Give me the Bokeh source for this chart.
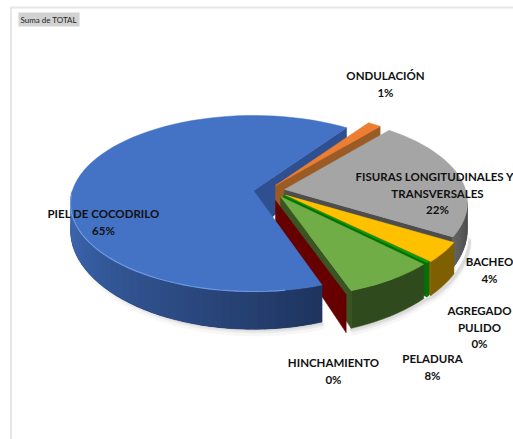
import math
from bokeh.plotting import figure
from bokeh.models import Range1d
from bokeh.core.properties import value
from bokeh.embed import file_html
from bokeh.resources import INLINE

# data (shares in percent)
categories = ["PIEL DE COCODRILO", "ONDULACIÓN", "FISURAS LONGITUDINALES Y TRANSVERSALES",
              "BACHEO", "AGREGADO PULIDO", "PELADURA", "HINCHAMIENTO"]
shares = [64.6, 1.2, 21.7, 4.0, 0.3, 8.0, 0.2]
share_labels = ["65%", "1%", "22%", "4%", "0%", "8%", "0%"]
label_lines = [["PIEL DE COCODRILO"], ["ONDULACIÓN"], ["FISURAS LONGITUDINALES Y", "TRANSVERSALES"],
               ["BACHEO"], ["AGREGADO", "PULIDO"], ["PELADURA"], ["HINCHAMIENTO"]]

# styling / layout
top_colors = ["#4472c4", "#ed7d31", "#a5a5a5", "#ffc000", "#08a008", "#70ad47", "#7a0000"]
wall_from = ["#3f6cb8", "#9c5a24", "#626262", "#7f6000", "#007000", "#2f4a1c", "#660000"]
wall_to = ["#1f3560", "#9c5a24", "#474747", "#7f6000", "#007000", "#2f4a1c", "#660000"]
explode = [(0, 0), (22, -5), (31, -1), (32, 4.6), (30, 4.5), (27, 6), (22, 10)]
label_x = [103, 385, 437, 489, 479, 432, 333]
label_y = [213, 75, 176, 261, 310, 358, 362]
CX, CY, A, B = 253, 203, 183, 88
APEX_UP = 13
START = 68.0


def depth(y):
    return 17 + (y - 126) * 20 / 159


def rim(t, off):
    r = math.radians(t)
    return CX + off[0] + A * math.cos(r), CY + off[1] + B * math.sin(r)


def mix(c1, c2, f):
    a = [int(c1[i:i + 2], 16) for i in (1, 3, 5)]
    b = [int(c2[i:i + 2], 16) for i in (1, 3, 5)]
    return "#%02x%02x%02x" % tuple(round(u + (v - u) * f) for u, v in zip(a, b))


p = figure(width=513, height=439, x_range=Range1d(0, 513), y_range=Range1d(439, 0),
           output_backend="svg", toolbar_location=None, min_border=0)
p.axis.visible = False
p.grid.visible = False
p.outline_line_color = None

# chart frame
p.line([10.5, 10.5, 513], [439, 7, 7], line_color="#e6e6e6", line_width=2)

# slice angles from the data
spans = []
t = START
for s in shares:
    spans.append((t, t + s * 3.6))
    t += s * 3.6


def arc(t0, t1, off, n=None):
    n = n or max(2, int(abs(t1 - t0) / 3) + 2)
    return [rim(t0 + (t1 - t0) * k / (n - 1), off) for k in range(n)]


def wall_range(t0, t1):
    # only the part of the rim facing the viewer (0..185 degrees, modulo 360)
    if t1 > 360:
        t0, t1 = t0 - 360, t1 - 360
    return max(t0, 0), min(t1, 185)


def draw_wall(i):
    a0, a1 = wall_range(*spans[i])
    if i == 0:
        a0, a1 = spans[0][0], 188
    if a1 <= a0:
        return
    pts = arc(a0, a1, explode[i])
    m = len(pts)
    # one full wall under the shaded strips, so no seams show through
    p.patch([q[0] for q in pts] + [q[0] for q in reversed(pts)],
            [q[1] for q in pts] + [q[1] + depth(q[1]) for q in reversed(pts)],
            fill_color=wall_to[i], line_color=wall_to[i], line_width=0.5)
    if wall_to[i] == wall_from[i]:
        return
    for k in range(m - 1):
        (x0, y0), (x1, y1) = pts[k], pts[k + 1]
        c = mix(wall_to[i], wall_from[i], k / max(1, m - 2))
        x2 = x1 + (x1 - x0) * 0.4
        y2 = y1 + (y1 - y0) * 0.4
        p.patch([x0, x2, x2, x0], [y0, y2, y2 + depth(y2), y0 + depth(y0)],
                fill_color=c, line_color=None)


def apex(i):
    return CX + explode[i][0], CY + explode[i][1] - APEX_UP


def draw_cut(i, t, color, apex_depth=None):
    ax, ay = apex(i)
    rx, ry = rim(t, explode[i])
    p.patch([ax, rx, rx, ax], [ay, ry, ry + depth(ry), ay + (apex_depth or depth(ay))],
            fill_color=color, line_color=color, line_width=0.5)


def draw_top(i):
    ax, ay = apex(i)
    pts = arc(*spans[i], explode[i])
    p.patch([ax] + [q[0] for q in pts], [ay] + [q[1] for q in pts],
            fill_color=top_colors[i], line_color=top_colors[i], line_width=0.5)


# soft shadow below the walls
for grow, alpha in ((7, 0.03), (4, 0.05), (2, 0.06)):
    pts = [rim(a, (0, 0)) for a in range(68, 185, 2)]
    p.patch([q[0] for q in pts] + [q[0] + 3 for q in reversed(pts)],
            [q[1] + depth(q[1]) for q in pts] + [q[1] + depth(q[1]) + grow for q in reversed(pts)],
            fill_color="#000000", fill_alpha=alpha, line_color=None)
    pts = [rim(a, explode[5]) for a in range(68, 38, -2)] + [rim(a, explode[3]) for a in range(37, 0, -2)]
    p.patch([q[0] for q in pts] + [q[0] + 3 for q in reversed(pts)],
            [q[1] + depth(q[1]) for q in pts] + [q[1] + depth(q[1]) + grow for q in reversed(pts)],
            fill_color="#000000", fill_alpha=alpha, line_color=None)

# blue cut face at the back
draw_cut(0, spans[0][1], "#2f5090", apex_depth=45)

# orange
draw_cut(1, spans[1][1], "#9c5a24")
draw_top(1)

# gray
draw_cut(2, spans[2][1], "#4d4d4d")
draw_wall(2)
draw_top(2)

# yellow
draw_cut(3, spans[3][1], "#7f6000")
draw_wall(3)
draw_top(3)

# thin green
draw_cut(4, spans[4][1], "#007000")
draw_wall(4)
draw_top(4)

# green
draw_cut(5, spans[5][1], "#3a5423")
draw_wall(5)
draw_top(5)

# dark red
draw_cut(6, spans[6][0], "#660000")

# blue in front
draw_wall(0)
draw_top(0)
hl = arc(spans[0][0] + 12, 186, explode[0])
p.line([q[0] for q in hl], [q[1] for q in hl], line_color="#6d99e2", line_width=1.2)

# filter button
p.quad(left=[18], right=[79], top=[12], bottom=[26], fill_color="#d2d2d2", line_color=None)
p.text(x=[20], y=[19], text=["Suma de TOTAL"], text_font=value("Lato"), text_font_size="8px",
       text_align="left", text_baseline="middle", text_color="#222222")

# data labels
for i, lines in enumerate(label_lines):
    rows = lines + [share_labels[i]]
    for j, row in enumerate(rows):
        x = label_x[i]
        al = "center"
        if row.startswith("FISURAS"):
            x = 355
            al = "left"
        p.text(x=[x], y=[label_y[i] + j * 16.5], text=[row], text_font=value("Lato"),
               text_font_size="11.5px", text_font_style="bold", text_align=al,
               text_baseline="middle", text_color="#111111")

open("out.html", "w").write(file_html(p, INLINE))
